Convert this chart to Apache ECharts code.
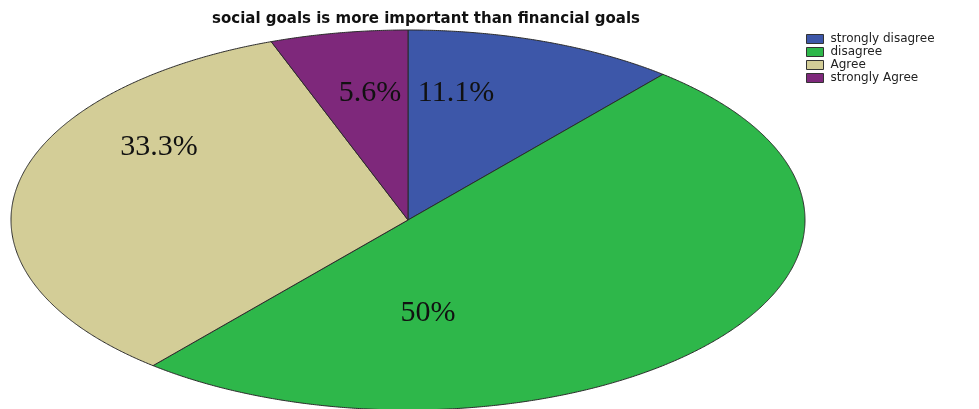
<!DOCTYPE html>
<html><head><meta charset="utf-8">
<script src="https://cdn.jsdelivr.net/npm/echarts@6/dist/echarts.min.js"></script>
<style>html,body{margin:0;padding:0;background:#fff}#c{width:979px;height:409px}</style></head>
<body><div id="c"></div><script>
const title='social goals is more important than financial goals';
const categories=['strongly disagree','disagree','Agree','strongly Agree'];
const values=[11.1,50,33.3,5.6];
const colors=['#3d57a9','#2eb74a','#d3cd97','#7e287b'];
// layout constants (ellipse geometry, label anchors)
const CX=408,CY=220,RX=397,RY=190;
const labelPos=[[456,93],[428,313],[159,147],[370,93]];
const total=values.reduce((a,b)=>a+b,0);

function makeRender(i){
  return function(params, api){
    const v=api.value(0);
    let start=0; for(let k=0;k<i;k++) start+=values[k];
    const a0=start/total*2*Math.PI, a1=(start+v)/total*2*Math.PI;
    const pts=[[CX,CY]];
    const n=Math.max(8,Math.ceil((a1-a0)/0.005));
    for(let j=0;j<=n;j++){const a=a0+(a1-a0)*j/n; pts.push([CX+RX*Math.sin(a), CY-RY*Math.cos(a)]);}
    return {type:'group',children:[
      {type:'polygon',shape:{points:pts},style:{fill:colors[i],stroke:'#2a2a2a',lineWidth:1}},
      {type:'text',x:labelPos[i][0],y:labelPos[i][1],z2:10,style:{text:v+'%',fill:'#111',font:'30px "Liberation Serif"',align:'center',verticalAlign:'middle'}}
    ]};
  };
}
const series=categories.map((c,i)=>({
  type:'custom',name:c,coordinateSystem:'none',
  itemStyle:{color:colors[i]},
  data:[[values[i]]],
  renderItem:makeRender(i),
  silent:true
}));
const chart=echarts.init(document.getElementById('c'),null,{renderer:'canvas'});
chart.setOption({
  animation:false,
  color:colors,
  title:{text:title,left:212,top:12,padding:0,textStyle:{fontFamily:'"DejaVu Sans"',fontWeight:'bold',fontSize:15,color:'#111'}},
  legend:{orient:'vertical',left:806,top:33,padding:0,itemWidth:17,itemHeight:9,itemGap:1,icon:'rect',
    itemStyle:{borderColor:'#333',borderWidth:1},
    textStyle:{fontFamily:'"DejaVu Sans"',fontSize:12,lineHeight:11,color:'#222',padding:[0,0,0,2]},
    data:categories},
  series:series
});
</script></body></html>
